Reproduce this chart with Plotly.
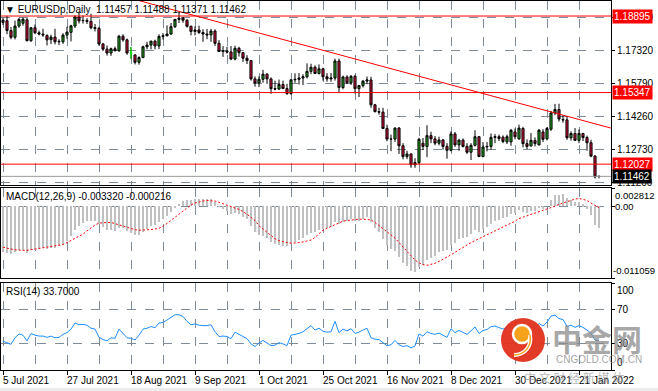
import plotly.graph_objects as go

# ---------------- data ----------------
opens = [1.1860,1.1868,1.1822,1.1791,1.1843,1.1856,1.1872,1.1775,1.1835,1.1812,
         1.1806,1.1799,1.1780,1.1792,1.1770,1.1770,1.1801,1.1814,1.1843,1.1885,
         1.1868,1.1869,1.1865,1.1836,1.1832,1.1760,1.1736,1.1718,1.1738,1.1729,
         1.1796,1.1779,1.1718,1.1709,1.1675,1.1697,1.1747,1.1755,1.1773,1.1751,
         1.1795,1.1798,1.1806,1.1840,1.1874,1.1880,1.1870,1.1842,1.1818,1.1825,
         1.1813,1.1806,1.1802,1.1820,1.1763,1.1725,1.1728,1.1723,1.1690,1.1740,
         1.1720,1.1694,1.1683,1.1598,1.1579,1.1596,1.1620,1.1598,1.1553,1.1551,
         1.1572,1.1553,1.1530,1.1594,1.1596,1.1602,1.1608,1.1633,1.1652,1.1623,
         1.1645,1.1608,1.1598,1.1602,1.1681,1.1558,1.1607,1.1580,1.1610,1.1553,
         1.1567,1.1588,1.1593,1.1478,1.1446,1.1444,1.1368,1.1319,1.1319,1.1370,
         1.1288,1.1238,1.1250,1.1200,1.1210,1.1300,1.1285,1.1335,1.1320,1.1300,
         1.1315,1.1285,1.1267,1.1343,1.1292,1.1314,1.1285,1.1258,1.1290,1.1330,
         1.1238,1.1282,1.1285,1.1327,1.1330,1.1328,1.1306,1.1306,1.1352,1.1320,
         1.1368,1.1298,1.1287,1.1312,1.1292,1.1352,1.1320,1.1365,1.1440,1.1456,
         1.1410,1.1408,1.1325,1.1345,1.1313,1.1345,1.1326,1.1302,1.1240,1.11457]
highs = [1.1882,1.1890,1.1838,1.1868,1.1881,1.1882,1.1880,1.1838,1.1850,1.1822,
         1.1830,1.1805,1.1803,1.1830,1.1782,1.1810,1.1840,1.1849,1.1893,1.1909,
         1.1892,1.1880,1.1900,1.1853,1.1840,1.1765,1.1753,1.1743,1.1748,1.1802,
         1.1805,1.1785,1.1746,1.1712,1.1703,1.1752,1.1770,1.1775,1.1780,1.1805,
         1.1810,1.1846,1.1857,1.1875,1.1909,1.1885,1.1875,1.1845,1.1842,1.1845,
         1.1828,1.1830,1.1830,1.1828,1.1778,1.1750,1.1747,1.1750,1.1752,1.1747,
         1.1722,1.1708,1.1685,1.1610,1.1610,1.1640,1.1625,1.1605,1.1590,1.1595,
         1.1590,1.1575,1.1595,1.1624,1.1625,1.1620,1.1670,1.1668,1.1660,1.1665,
         1.1650,1.1625,1.1625,1.1692,1.1692,1.1613,1.1615,1.1616,1.1617,1.1570,
         1.1592,1.1609,1.1608,1.1482,1.1464,1.1464,1.1386,1.1340,1.1374,1.1375,
         1.1300,1.1265,1.1252,1.1230,1.1325,1.1324,1.1383,1.1353,1.1333,1.1330,
         1.1320,1.1300,1.1355,1.1352,1.1320,1.1322,1.1300,1.1300,1.1360,1.1333,
         1.1305,1.1305,1.1345,1.1342,1.1340,1.1336,1.1340,1.1366,1.1368,1.1386,
         1.1376,1.1318,1.1347,1.1327,1.1366,1.1365,1.1375,1.1450,1.1482,1.1483,
         1.1430,1.1425,1.1355,1.1370,1.1364,1.1348,1.1335,1.1316,1.1245,1.11488]
lows = [1.1848,1.1805,1.1782,1.1781,1.1835,1.1845,1.1772,1.1770,1.1805,1.1800,
        1.1793,1.1753,1.1760,1.1758,1.1755,1.1760,1.1784,1.1772,1.1834,1.1855,
        1.1855,1.1853,1.1828,1.1818,1.1752,1.1727,1.1706,1.1705,1.1725,1.1723,
        1.1770,1.1710,1.1690,1.1665,1.1664,1.1694,1.1735,1.1735,1.1735,1.1736,
        1.1780,1.1795,1.1803,1.1834,1.1857,1.1858,1.1836,1.1800,1.1800,1.1806,
        1.1770,1.1782,1.1770,1.1751,1.1723,1.1700,1.1715,1.1685,1.1684,1.1702,
        1.1677,1.1667,1.1590,1.1562,1.1560,1.1580,1.1575,1.1529,1.1545,1.1546,
        1.1555,1.1524,1.1525,1.1580,1.1572,1.1570,1.1600,1.1620,1.1620,1.1618,
        1.1590,1.1585,1.1585,1.1590,1.1535,1.1550,1.1575,1.1570,1.1530,1.1514,
        1.1558,1.1574,1.1464,1.1443,1.1432,1.1368,1.1309,1.1263,1.1306,1.1250,
        1.1225,1.1226,1.1186,1.1186,1.1203,1.1268,1.1235,1.1300,1.1290,1.1290,
        1.1270,1.1228,1.1262,1.1283,1.1265,1.1280,1.1250,1.1222,1.1285,1.1235,
        1.1235,1.1262,1.1270,1.1300,1.1310,1.1300,1.1296,1.1288,1.1318,1.1316,
        1.1280,1.1272,1.1285,1.1285,1.1290,1.1305,1.1313,1.1357,1.1430,1.1400,
        1.1395,1.1316,1.1312,1.1310,1.1300,1.1310,1.1265,1.1235,1.1136,1.11371]
closes = [1.1870,1.1822,1.1791,1.1843,1.1874,1.1875,1.1775,1.1835,1.1812,1.1806,
          1.1802,1.1779,1.1792,1.1770,1.1772,1.1801,1.1815,1.1844,1.1885,1.1867,
          1.1869,1.1865,1.1835,1.1832,1.1760,1.1736,1.1718,1.1738,1.1729,1.1796,
          1.1779,1.1718,1.1718,1.1675,1.1697,1.1747,1.1755,1.1773,1.1751,1.1795,
          1.1798,1.1806,1.1840,1.1874,1.1880,1.1870,1.1842,1.1818,1.1825,1.1813,
          1.1806,1.1802,1.1820,1.1763,1.1725,1.1728,1.1723,1.1690,1.1740,1.1720,
          1.1694,1.1683,1.1598,1.1579,1.1596,1.1620,1.1598,1.1553,1.1551,1.1572,
          1.1553,1.1530,1.1594,1.1596,1.1602,1.1608,1.1633,1.1652,1.1623,1.1645,
          1.1608,1.1598,1.1602,1.1681,1.1558,1.1607,1.1580,1.1610,1.1553,1.1567,
          1.1588,1.1593,1.1478,1.1446,1.1444,1.1368,1.1319,1.1319,1.1370,1.1288,
          1.1238,1.1250,1.1200,1.1210,1.1318,1.1285,1.1335,1.1320,1.1300,1.1315,
          1.1285,1.1267,1.1343,1.1292,1.1314,1.1285,1.1258,1.1290,1.1330,1.1238,
          1.1282,1.1285,1.1327,1.1330,1.1322,1.1308,1.1330,1.1360,1.1330,1.1370,
          1.1298,1.1285,1.1313,1.1298,1.1360,1.1318,1.1368,1.1440,1.1456,1.1412,
          1.1408,1.1325,1.1345,1.1313,1.1345,1.1326,1.1302,1.1240,1.1144,1.11462]

macd_main = [-0.0070,-0.0072,-0.0073,-0.0071,-0.0068,-0.0067,-0.0072,-0.0068,-0.0067,-0.0066,
             -0.0065,-0.0066,-0.0064,-0.0064,-0.0062,-0.0058,-0.0053,-0.0046,-0.0036,-0.0030,
             -0.0026,-0.0023,-0.0022,-0.0022,-0.0027,-0.0032,-0.0036,-0.0037,-0.0038,-0.0034,
             -0.0034,-0.0038,-0.0041,-0.0045,-0.0044,-0.0039,-0.0035,-0.0031,-0.0029,-0.0024,
             -0.0020,-0.0015,-0.0009,-0.0002,0.0004,0.0008,0.0010,0.0010,0.0011,0.0011,
             0.0011,0.0011,0.0011,0.0006,-0.0001,-0.0005,-0.0008,-0.0012,-0.0011,-0.0012,
             -0.0016,-0.0020,-0.0030,-0.0039,-0.0044,-0.0046,-0.0049,-0.0055,-0.0058,-0.0059,
             -0.0061,-0.0062,-0.0058,-0.0055,-0.0052,-0.0049,-0.0045,-0.0041,-0.0040,-0.0036,
             -0.0035,-0.0034,-0.0032,-0.0024,-0.0027,-0.0024,-0.0023,-0.0020,-0.0022,-0.0022,
             -0.0019,-0.0017,-0.0025,-0.0033,-0.0039,-0.0050,-0.0060,-0.0066,-0.0069,-0.0078,
             -0.0087,-0.0092,-0.0100,-0.0102,-0.0094,-0.0090,-0.0083,-0.0079,-0.0076,-0.0071,
             -0.0069,-0.0067,-0.0059,-0.0056,-0.0051,-0.0049,-0.0048,-0.0043,-0.0037,-0.0039,
             -0.0035,-0.0032,-0.0027,-0.0023,-0.0021,-0.0018,-0.0017,-0.0012,-0.0011,-0.0006,
             -0.0009,-0.0010,-0.0008,-0.0008,-0.0003,-0.0004,0.0000,0.0010,0.0017,0.0018,
             0.0019,0.0012,0.0010,0.0006,0.0006,0.0003,-0.0004,-0.0014,-0.0029,-0.00332]
macd_signal = [-0.0063,-0.0065,-0.0066,-0.0067,-0.0068,-0.0068,-0.0068,-0.0067,-0.0066,-0.0066,
               -0.0065,-0.0064,-0.0063,-0.0062,-0.0060,-0.0059,-0.0056,-0.0053,-0.0049,-0.0046,
               -0.0043,-0.0038,-0.0033,-0.0029,-0.0026,-0.0025,-0.0025,-0.0025,-0.0027,-0.0029,
               -0.0030,-0.0033,-0.0035,-0.0036,-0.0037,-0.0037,-0.0037,-0.0036,-0.0035,-0.0034,
               -0.0031,-0.0027,-0.0022,-0.0017,-0.0012,-0.0007,-0.0002,0.0002,0.0005,0.0007,
               0.0008,0.0009,0.0009,0.0008,0.0006,0.0004,0.0002,0.0000,-0.0002,-0.0005,
               -0.0008,-0.0012,-0.0017,-0.0022,-0.0030,-0.0035,-0.0040,-0.0045,-0.0050,-0.0053,
               -0.0055,-0.0056,-0.0057,-0.0057,-0.0056,-0.0055,-0.0054,-0.0052,-0.0048,-0.0042,
               -0.0037,-0.0034,-0.0031,-0.0028,-0.0025,-0.0023,-0.0022,-0.0021,-0.0020,-0.0020,
               -0.0020,-0.0020,-0.0021,-0.0025,-0.0030,-0.0035,-0.0040,-0.0044,-0.0049,-0.0056,
               -0.0063,-0.0070,-0.0077,-0.0083,-0.0087,-0.0090,-0.0091,-0.0090,-0.0088,-0.0085,
               -0.0082,-0.0079,-0.0075,-0.0071,-0.0067,-0.0063,-0.0059,-0.0056,-0.0053,-0.0050,
               -0.0047,-0.0045,-0.0042,-0.0039,-0.0036,-0.0033,-0.0029,-0.0026,-0.0023,-0.0019,
               -0.0017,-0.0015,-0.0013,-0.0010,-0.0008,-0.0006,-0.0004,-0.0002,0.0000,0.0003,
               0.0005,0.0007,0.0010,0.0011,0.0012,0.0011,0.0009,0.0005,0.0001,-0.000216]
rsi = [33,31,29.5,37,41.5,40,33.5,42,40,39,
       39,37.5,39,37,37.5,41,43,47,54,52,
       52.5,51.5,48,47,37.5,35,33.5,37,36.5,47,
       42.5,37,36.5,34.5,40,47,48,50,48.5,54,
       54.5,57.5,60,63.5,63.5,61.5,56,52,53,51.5,
       51,51,52,44,38.5,39,38.5,36,43.5,41,
       38.5,36,30,27,31,34,31,28,28.5,31.5,
       30,28,40,41,42,44,48,51,46,48,
       44.5,43.5,44,56,43,47,45,47.5,42,43.5,
       46,48,37,35.5,35,31,28,29,34,29,
       27,28,25.5,27.5,41.5,39,44,42,41,42.5,
       40,37.5,47.5,43,45.5,43,41,45,49.5,42,
       45.5,46.5,50,50.5,49,47,49,53,49.5,53,
       47.5,46.5,49.5,48,53.5,50.5,55,62,63,59,
       58,50,51.5,49,51,49,46,42,34.5,33.7]

date_labels = ["5 Jul 2021", "27 Jul 2021", "18 Aug 2021", "9 Sep 2021", "1 Oct 2021",
               "25 Oct 2021", "16 Nov 2021", "8 Dec 2021", "30 Dec 2021", "21 Jan 2022"]
bars_per_label = 16
bars_per_grid = 8
price_ticks = [1.18850, 1.17320, 1.15790, 1.14260, 1.12730, 1.11200]
level_lines = [1.18895, 1.15347, 1.12027]
bid_price = 1.11462
trend_anchor_a = (44, 1.1911)
trend_anchor_b = (139, 1.1435)
doji_bar = 32
macd_labels = [0.002812, 0.0, -0.011059]
rsi_levels = [100, 70, 30, 0]

header_main = "\u25bc EURUSDp,Daily  1.11457 1.11488 1.11371 1.11462"
header_macd = "MACD(12,26,9) -0.003320 -0.000216"
header_rsi = "RSI(14) 33.7000"

# ---------------- style ----------------
BULL = "#22A322"
BEAR = "#D0103A"
GRID = "#7f8c99"
FONT = "Liberation Sans, Arial, sans-serif"
W, H = 658, 391
ML, MR, MT, MB = 1, 47, 1, 21
PW, PH = W - ML - MR, H - MT - MB


def py(p):  # pixel row -> paper y
    return (H - MB - p) / PH


def px(p):  # pixel col -> paper x
    return (p - ML) / PW


n = len(opens)
xs = list(range(n))
x_range = [-0.5, 152]

fig = go.Figure()

fig.add_trace(go.Candlestick(
    x=xs, open=opens, high=highs, low=lows, close=closes,
    increasing=dict(line=dict(color="black", width=1), fillcolor=BULL),
    decreasing=dict(line=dict(color="black", width=1), fillcolor=BEAR),
    whiskerwidth=0, hoverinfo="skip", showlegend=False, xaxis="x", yaxis="y"))

fig.add_trace(go.Candlestick(
    x=[xs[doji_bar]], open=[opens[doji_bar]], high=[highs[doji_bar]],
    low=[lows[doji_bar]], close=[closes[doji_bar]],
    increasing=dict(line=dict(color="#00FF00", width=1), fillcolor="#00FF00"),
    decreasing=dict(line=dict(color="#00FF00", width=1), fillcolor="#00FF00"),
    whiskerwidth=0, hoverinfo="skip", showlegend=False, xaxis="x", yaxis="y"))

# trend line through two anchors, extended across the panel
(ia, pa), (ib, pb) = trend_anchor_a, trend_anchor_b
slope = (pb - pa) / (ib - ia)
tx = [20, 160]
ty = [pa + slope * (t - ia) for t in tx]
fig.add_trace(go.Scatter(x=tx, y=ty, mode="lines", line=dict(color="red", width=1),
                         hoverinfo="skip", showlegend=False, xaxis="x", yaxis="y"))

fig.add_trace(go.Bar(x=xs, y=macd_main, width=0.32,
                     marker=dict(color="#C0C0C0", line=dict(width=0)),
                     hoverinfo="skip", showlegend=False, xaxis="x2", yaxis="y2"))
fig.add_trace(go.Scatter(x=xs, y=macd_signal, mode="lines",
                         line=dict(color="red", width=1, dash="2px,2px"),
                         hoverinfo="skip", showlegend=False, xaxis="x2", yaxis="y2"))

fig.add_trace(go.Scatter(x=xs, y=rsi, mode="lines", line=dict(color="#1E90FF", width=1),
                         hoverinfo="skip", showlegend=False, xaxis="x3", yaxis="y3"))

grid_vals = list(range(0, n + 8, bars_per_grid))
label_vals = [k * bars_per_label for k in range(len(date_labels))]

xcommon = dict(range=x_range, showline=True, mirror=True, linecolor="black", linewidth=1,
               zeroline=False, showgrid=True, gridcolor=GRID, griddash="dash", gridwidth=1,
               tickmode="array", tickvals=grid_vals, showticklabels=False, ticks="",
               fixedrange=True)
ycommon = dict(side="right", showline=True, mirror=True, linecolor="black", linewidth=1,
               zeroline=False, showgrid=True, gridcolor=GRID, griddash="dash", gridwidth=1,
               ticks="outside", ticklen=3, tickcolor="black", fixedrange=True,
               tickfont=dict(family=FONT, size=10, color="black"))

d_main = [py(185), 1.0]
d_macd = [py(278), py(188)]
d_rsi = [0.0, py(283)]

fig.update_layout(
    width=W, height=H, margin=dict(l=ML, r=MR, t=MT, b=MB),
    paper_bgcolor="white", plot_bgcolor="white", showlegend=False,
    font=dict(family=FONT, size=10, color="black"),
    boxgap=0.25, bargap=0,
    xaxis=dict(xcommon, anchor="y", rangeslider=dict(visible=False)),
    xaxis2=dict(xcommon, anchor="y2", matches="x"),
    xaxis3=dict(xcommon, anchor="y3", matches="x",
                minor=dict(tickvals=label_vals, ticks="outside", ticklen=4,
                           tickcolor="black", showgrid=False)),
    yaxis=dict(ycommon, domain=d_main, range=[1.11061, 1.19592], tickmode="array",
               tickvals=price_ticks, ticktext=["%.5f" % v for v in price_ticks]),
    yaxis2=dict(ycommon, domain=d_macd, range=[macd_labels[2], macd_labels[0]],
                tickmode="array", tickvals=macd_labels, showticklabels=False),
    yaxis3=dict(ycommon, domain=d_rsi, range=[0, 100], tickmode="array",
                tickvals=rsi_levels, showticklabels=False),
)

shapes = []
for lv in level_lines:
    shapes.append(dict(type="line", xref="x domain", yref="y", x0=0, x1=1, y0=lv, y1=lv,
                       line=dict(color="red", width=1), layer="above"))
shapes.append(dict(type="line", xref="x domain", yref="y", x0=0, x1=1, y0=bid_price,
                   y1=bid_price, line=dict(color="#9a9a9a", width=1), layer="above"))
# bottom strip
shapes.append(dict(type="rect", xref="paper", yref="paper", x0=px(0), x1=px(W),
                   y0=py(H), y1=py(388), fillcolor="#ececec", line=dict(width=0)))
# watermark logo
cx, cy = px(523), py(340)
shapes.append(dict(type="circle", xref="paper", yref="paper", xsizemode="pixel",
                   ysizemode="pixel", xanchor=cx, yanchor=cy, x0=-22, x1=22, y0=-22, y1=22,
                   fillcolor="#E0321E", line=dict(width=0), layer="above", opacity=0.95))
shapes.append(dict(type="circle", xref="paper", yref="paper", xsizemode="pixel",
                   ysizemode="pixel", xanchor=cx, yanchor=cy, x0=-10, x1=8, y0=-3, y1=15,
                   fillcolor="#F7A21B", line=dict(color="white", width=2.5), layer="above"))
shapes.append(dict(type="path", xref="paper", yref="paper", xsizemode="pixel",
                   ysizemode="pixel", xanchor=cx, yanchor=cy,
                   path="M 7,5 C 9,-6 2,-15 -9,-15", line=dict(color="white", width=4),
                   layer="above"))
shapes.append(dict(type="path", xref="paper", yref="paper", xsizemode="pixel",
                   ysizemode="pixel", xanchor=cx, yanchor=cy,
                   path="M 7,5 C 9,-6 2,-15 -9,-15", line=dict(color="#F7A21B", width=1.5),
                   layer="above"))
fig.update_layout(shapes=shapes)

ann = []
ann.append(dict(xref="paper", yref="paper", x=px(3), y=py(1), xanchor="left", yanchor="top",
                text=header_main, showarrow=False, font=dict(size=10, color="black"),
                yshift=-1))
ann.append(dict(xref="paper", yref="paper", x=px(4), y=py(189), xanchor="left",
                yanchor="top", text=header_macd, showarrow=False,
                font=dict(size=10, color="black")))
ann.append(dict(xref="paper", yref="paper", x=px(4), y=py(284), xanchor="left",
                yanchor="top", text=header_rsi, showarrow=False,
                font=dict(size=10, color="black")))
for lv in level_lines:
    ann.append(dict(xref="paper", yref="y", x=1, y=lv, xanchor="left", yanchor="middle",
                    xshift=1, text="%.5f" % lv, showarrow=False, bgcolor="#FF0000",
                    font=dict(size=10, color="white"), borderpad=1))
ann.append(dict(xref="paper", yref="y", x=1, y=bid_price, xanchor="left", yanchor="middle",
                xshift=1, text="%.5f" % bid_price, showarrow=False, bgcolor="black",
                font=dict(size=10, color="white"), borderpad=1))
macd_text = ["%.6f" % macd_labels[0], "0.00", "%.6f" % macd_labels[2]]
macd_anchor = ["top", "middle", "bottom"]
macd_shift = [2, 2, 0]
for v, t, a, s in zip(macd_labels, macd_text, macd_anchor, macd_shift):
    ann.append(dict(xref="paper", yref="y2", x=1, y=v, xanchor="left", yanchor=a, xshift=s,
                    text=t, showarrow=False, font=dict(size=9.5, color="black")))
rsi_anchor = ["top", "middle", "middle", "bottom"]
for v, a in zip(rsi_levels, rsi_anchor):
    ann.append(dict(xref="paper", yref="y3", x=1, y=v, xanchor="left", yanchor=a, xshift=4,
                    text=str(v), showarrow=False, font=dict(size=10, color="black")))
for xv, t in zip(label_vals, date_labels):
    ann.append(dict(xref="x3", yref="paper", x=xv, y=0, xanchor="left", yanchor="top",
                    xshift=-2, yshift=-3, text=t, showarrow=False,
                    font=dict(size=10, color="black")))
# watermark texts
ann.append(dict(xref="paper", yref="paper", x=px(597), y=py(338), xanchor="center",
                yanchor="middle", text="<b>中金网</b>", showarrow=False,
                font=dict(family="Noto Sans CJK SC", size=30, color="rgba(140,140,140,0.75)")))
ann.append(dict(xref="paper", yref="paper", x=px(599), y=py(359), xanchor="center",
                yanchor="middle", text="CNGOLD.COM.CN", showarrow=False,
                font=dict(family=FONT, size=10, color="rgba(140,140,140,0.8)")))
ann.append(dict(xref="paper", yref="paper", x=px(574), y=py(378), xanchor="center",
                yanchor="middle", text="中 文 财 经 新 媒 体", showarrow=False,
                font=dict(family="Noto Sans CJK SC", size=12, color="rgba(150,150,150,0.7)")))
fig.update_layout(annotations=ann)

fig.write_html("out.html", config={"displayModeBar": False},
               post_script="document.body.style.margin='0';document.body.style.padding='0';"
                           "document.body.style.overflow='hidden';")
